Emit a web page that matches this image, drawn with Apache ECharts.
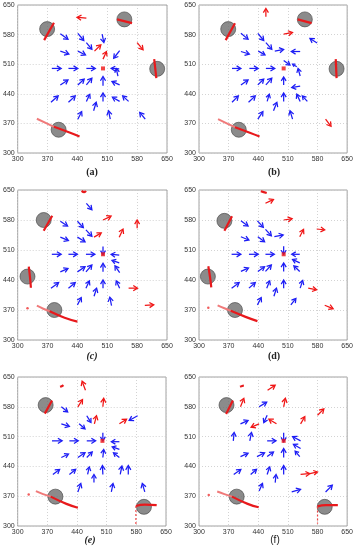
<!DOCTYPE html>
<html><head><meta charset="utf-8">
<script src="https://cdn.jsdelivr.net/npm/echarts@6/dist/echarts.min.js"></script>
<style>html,body{margin:0;padding:0;background:#fff}#c{width:356px;height:550px}</style>
</head><body><div id="c"></div>
<script>
const tickValues = [300, 370, 440, 510, 580, 650];
const panelLabels = ['(a)', '(b)', '(c)', '(d)', '(e)', '(f)'];
const center = [[500, 500]];

// arrows: [x0, y0, x1, y1] tail -> head
const blueA = [
[400,582,418,569],[441,583,455,566],[461,561,474,545],[498,581,502,561],
[400,541,420,534],[441,541,459,532],[539,542,525,524],
[380,500,402,500],[419,500,441,500],[461,500,482,500],[538,499,519,500],[535,482,531,500],
[400,461,418,473],[441,461,456,475],[461,461,474,477],[500,459,500,481],[539,461,521,469],
[378,420,395,435],[419,420,435,435],[461,422,469,439],[500,422,500,442],[539,422,522,432],[560,422,546,435],
[441,380,450,398],[478,400,484,420],[517,380,513,400],[599,380,586,396]];
const redA = [[461,619,439,621],[480,541,495,556],[500,522,508,540],[580,561,594,544]];
const circA = [[369,593],[550,616],[627,499],[396,355]];
const pathsA = [[[362,567],[385,608]],[[533,616],[568,607]],[[620,522],[625,477]],[[385,362],[420,349],[445,339]]];
const faintA = [[[345,381],[368,370],[385,362]]];

const blueB = [
[399,583,416,569],[439,583,453,566],[458,561,472,545],[579,560,562,571],
[399,540,419,534],[440,541,456,532],[479,541,500,545],[539,540,518,540],[500,519,515,508],[531,504,521,510],
[378,500,399,500],[419,500,440,500],[458,500,479,500],[539,482,534,500],
[399,461,416,473],[439,461,453,475],[458,461,472,477],[500,461,500,480],[539,458,519,455],
[378,420,393,435],[417,420,433,435],[461,422,466,439],[500,422,500,442],[539,422,531,439],[556,422,544,435],
[439,380,451,398],[476,400,484,420],[521,380,515,400]];
const redB = [[458,622,458,642],[500,581,521,585],[599,380,612,363]];
const circB = [[369,593],[550,616],[625,499],[394,355]];
const pathsB = [[[363,567],[385,607]],[[533,616],[566,607]],[[623,522],[625,477]],[[385,361],[420,348],[443,339]]];
const faintB = [[[345,380],[368,369],[385,361]]];

const blueC = [
[461,619,474,604],[400,577,417,566],[440,577,454,562],[460,557,474,542],
[400,540,419,532],[440,540,458,529],
[380,500,402,500],[419,500,440,500],[460,500,481,500],[500,518,500,499],[538,498,519,500],[538,480,521,486],
[400,459,418,467],[440,459,458,471],[460,459,474,475],[500,459,500,479],[539,457,528,473],
[378,421,396,434],[419,421,435,434],[460,421,468,438],[500,421,500,440],[539,421,531,438],
[440,382,449,399],[479,402,485,421],[520,380,516,400]];
const redC = [[500,580,519,589],[479,540,496,550],[538,540,547,559],[580,561,580,580],[560,421,581,421],[598,381,619,382]];
const circC = [[361,580],[323,448],[386,370]];
const pathsC = [[[361,555],[381,590]],[[326,471],[329,445],[331,422]],[[375,367],[410,352],[440,343]],[[450,648],[456,645],[460,648]]];
const faintC = [[[345,380],[360,373],[375,367]]];
const dotsC = [[323,374]];

const blueD = [
[399,578,416,566],[438,578,452,563],[457,558,471,543],[478,541,499,545],
[399,541,418,533],[439,541,455,529],
[377,500,399,500],[418,500,440,500],[457,500,478,500],[500,519,500,500],[538,500,519,500],[538,480,521,488],
[399,460,417,468],[439,460,455,471],[457,460,471,475],[500,460,500,480],[538,460,524,473],
[377,421,395,434],[418,421,433,434],[460,421,467,438],[500,421,500,440],[539,421,545,439],
[438,382,447,399],[477,402,483,421],[517,382,529,397]];
const redD = [[457,619,476,628],[500,580,520,583],[538,541,547,558],[578,559,597,557],[558,421,578,417],[597,381,617,373]];
const circD = [[360,578],[321,448],[385,370]];
const pathsD = [[[360,555],[378,589]],[[322,472],[326,447],[329,423]],[[375,368],[410,354],[438,344]],[[446,647],[453,645],[460,643]]];
const faintD = [[[344,381],[360,374],[375,368]]];
const dotsD = [[322,375]];

const blueE = [
[403,580,418,568],[463,559,473,543],[445,540,459,528],[403,540,422,534],[583,559,563,548],[501,519,501,500],
[381,500,405,500],[422,500,443,500],[463,500,484,500],[540,498,521,498],[540,480,523,486],
[403,461,420,469],[442,461,459,472],[463,461,476,474],[501,461,503,480],[540,461,526,472],
[383,421,399,433],[422,421,437,433],[465,421,469,439],[501,421,500,442],[542,421,546,441],[561,421,561,442],
[442,380,449,400],[480,402,480,421],[521,380,525,400],[600,380,594,400]];
const redE = [[460,619,452,640],[442,580,453,597],[501,580,503,600],[481,540,486,559],[540,540,557,551]];
const circE = [[366,584],[389,369],[598,345]];
const pathsE = [[[364,564],[381,595]],[[378,369],[415,352],[442,343]],[[579,347],[600,350],[628,349]],[[400,627],[405,629],[408,631]]];
const faintE = [[[343,382],[360,375],[378,369]]];
const dashedE = [[[579,347],[579,301]]];
const dotsE = [[326,374]];

const blueF = [
[442,580,460,591],[461,560,453,543],[398,540,416,548],
[381,500,383,520],[420,500,424,520],[461,500,482,500],[500,519,500,498],[540,500,521,510],[540,482,523,492],[538,463,527,476],
[398,463,416,471],[437,463,455,472],[461,463,476,474],[500,461,500,482],
[382,421,399,433],[422,421,436,433],[461,421,467,439],[500,421,500,442],[480,402,482,421],[442,382,450,400],[519,380,540,386],[599,380,615,396]];
const redF = [[462,619,480,631],[398,580,406,600],[500,580,504,600],[483,540,465,551],[442,540,423,532],[540,540,550,557],[580,560,595,575],[540,421,562,423],[562,423,580,427]];
const circF = [[365,584],[389,369],[597,345]];
const pathsF = [[[364,563],[380,595]],[[378,369],[415,352],[441,344]],[[580,346],[600,349],[628,349]],[[397,627],[402,629],[406,630]]];
const faintF = [[[343,381],[360,375],[378,369]]];
const dashedF = [[[580,346],[580,305]]];
const dotsF = [[323,373]];

const panels = [
 {blue: blueA, red: redA, circ: circA, paths: pathsA, faint: faintA, dashed: [], dots: []},
 {blue: blueB, red: redB, circ: circB, paths: pathsB, faint: faintB, dashed: [], dots: []},
 {blue: blueC, red: redC, circ: circC, paths: pathsC, faint: faintC, dashed: [], dots: dotsC},
 {blue: blueD, red: redD, circ: circD, paths: pathsD, faint: faintD, dashed: [], dots: dotsD},
 {blue: blueE, red: redE, circ: circE, paths: pathsE, faint: faintE, dashed: dashedE, dots: dotsE},
 {blue: blueF, red: redF, circ: circF, paths: pathsF, faint: faintF, dashed: dashedF, dots: dotsF}
];

// layout (px)
const grids = [
 {left: 17, top: 5, width: 150, height: 148},
 {left: 199, top: 5, width: 149, height: 148},
 {left: 17, top: 190, width: 150, height: 150},
 {left: 199, top: 190, width: 150, height: 150},
 {left: 15, top: 377, width: 151, height: 149},
 {left: 199, top: 377, width: 150, height: 149}
];
const labelPos = [[92,172,'bold 10px "Liberation Serif"'],[274,172,'bold 10px "Liberation Serif"'],
 [92,356,'italic bold 10px "Liberation Serif"'],[274,356,'bold 10px "Liberation Serif"'],
 [90,540,'italic bold 10px "Liberation Serif"'],[275,540,'10px "Liberation Sans"']];

function arrowRender(color) {
  return function (params, api) {
    const p0 = api.coord([api.value(0), api.value(1)]);
    const p1 = api.coord([api.value(2), api.value(3)]);
    const dx = p1[0]-p0[0], dy = p1[1]-p0[1];
    const len = Math.hypot(dx, dy) || 1;
    const ux = dx/len, uy = dy/len;
    const h = Math.min(4.3, len*0.5), w = h*0.6;
    const b = [p1[0]-ux*h, p1[1]-uy*h];
    const l = [b[0]-uy*w, b[1]+ux*w], r = [b[0]+uy*w, b[1]-ux*w];
    return {type: 'group', children: [
      {type: 'line', shape: {x1: p0[0], y1: p0[1], x2: p1[0]-ux*1, y2: p1[1]-uy*1}, style: {stroke: color, lineWidth: 1.25}},
      {type: 'polyline', shape: {points: [l, p1, r]}, style: {stroke: color, fill: null, lineWidth: 1.25, lineJoin: 'miter'}}
    ]};
  };
}

const xAxes = [], yAxes = [], series = [], graphics = [];
const axisCommon = {
  type: 'value', min: 300, max: 650, interval: 70,
  axisLine: {show: false}, axisTick: {show: false},
  splitLine: {show: true, lineStyle: {type: [1, 2], color: '#c8c8c8', width: 0.8}},
  axisLabel: {fontSize: 7, color: '#333', margin: 3, fontFamily: 'Liberation Sans', showMinLabel: true, showMaxLabel: true}
};
panels.forEach((p, i) => {
  xAxes.push(Object.assign({gridIndex: i}, axisCommon));
  yAxes.push(Object.assign({gridIndex: i}, axisCommon));
  p.faint.forEach(path => series.push({type: 'line', xAxisIndex: i, yAxisIndex: i, data: path, showSymbol: false, smooth: true, lineStyle: {color: '#f07a7a', width: 2}, z: 3, silent: true}));
  series.push({type: 'scatter', xAxisIndex: i, yAxisIndex: i, data: p.circ, symbolSize: 15, itemStyle: {color: '#6e6e6e', borderColor: '#444', borderWidth: 0.8}, z: 2, silent: true});
  p.paths.forEach(path => series.push({type: 'line', xAxisIndex: i, yAxisIndex: i, data: path, showSymbol: false, smooth: true, lineStyle: {color: '#e8191c', width: 2.2}, z: 4, silent: true}));
  p.dashed.forEach(path => series.push({type: 'line', xAxisIndex: i, yAxisIndex: i, data: path, showSymbol: false, lineStyle: {color: '#ee4444', width: 1.2, type: [2, 2]}, z: 4, silent: true}));
  if (p.dots.length) series.push({type: 'scatter', xAxisIndex: i, yAxisIndex: i, data: p.dots, symbolSize: 2.5, itemStyle: {color: '#ee3333'}, z: 4, silent: true});
  series.push({type: 'custom', xAxisIndex: i, yAxisIndex: i, data: p.blue, renderItem: arrowRender('#1b1bf5'), encode: {x: [0, 2], y: [1, 3]}, z: 5, silent: true});
  series.push({type: 'custom', xAxisIndex: i, yAxisIndex: i, data: p.red, renderItem: arrowRender('#f01414'), encode: {x: [0, 2], y: [1, 3]}, z: 5, silent: true});
  series.push({type: 'scatter', xAxisIndex: i, yAxisIndex: i, data: center, symbol: 'rect', symbolSize: 4, itemStyle: {color: '#f01414'}, z: 6, silent: true});
  graphics.push({type: 'text', x: labelPos[i][0], y: labelPos[i][1], style: {text: panelLabels[i], font: labelPos[i][2], fill: '#222', textAlign: 'center', textVerticalAlign: 'middle'}});
});

const chart = echarts.init(document.getElementById('c'), null, {renderer: 'canvas'});
chart.setOption({
  backgroundColor: '#fff',
  animation: false,
  grid: grids.map(g => Object.assign({show: true, borderColor: '#8a8a8a', borderWidth: 0.8, backgroundColor: '#fff'}, g)),
  xAxis: xAxes,
  yAxis: yAxes,
  series: series,
  graphic: graphics
});
</script>
</body></html>
